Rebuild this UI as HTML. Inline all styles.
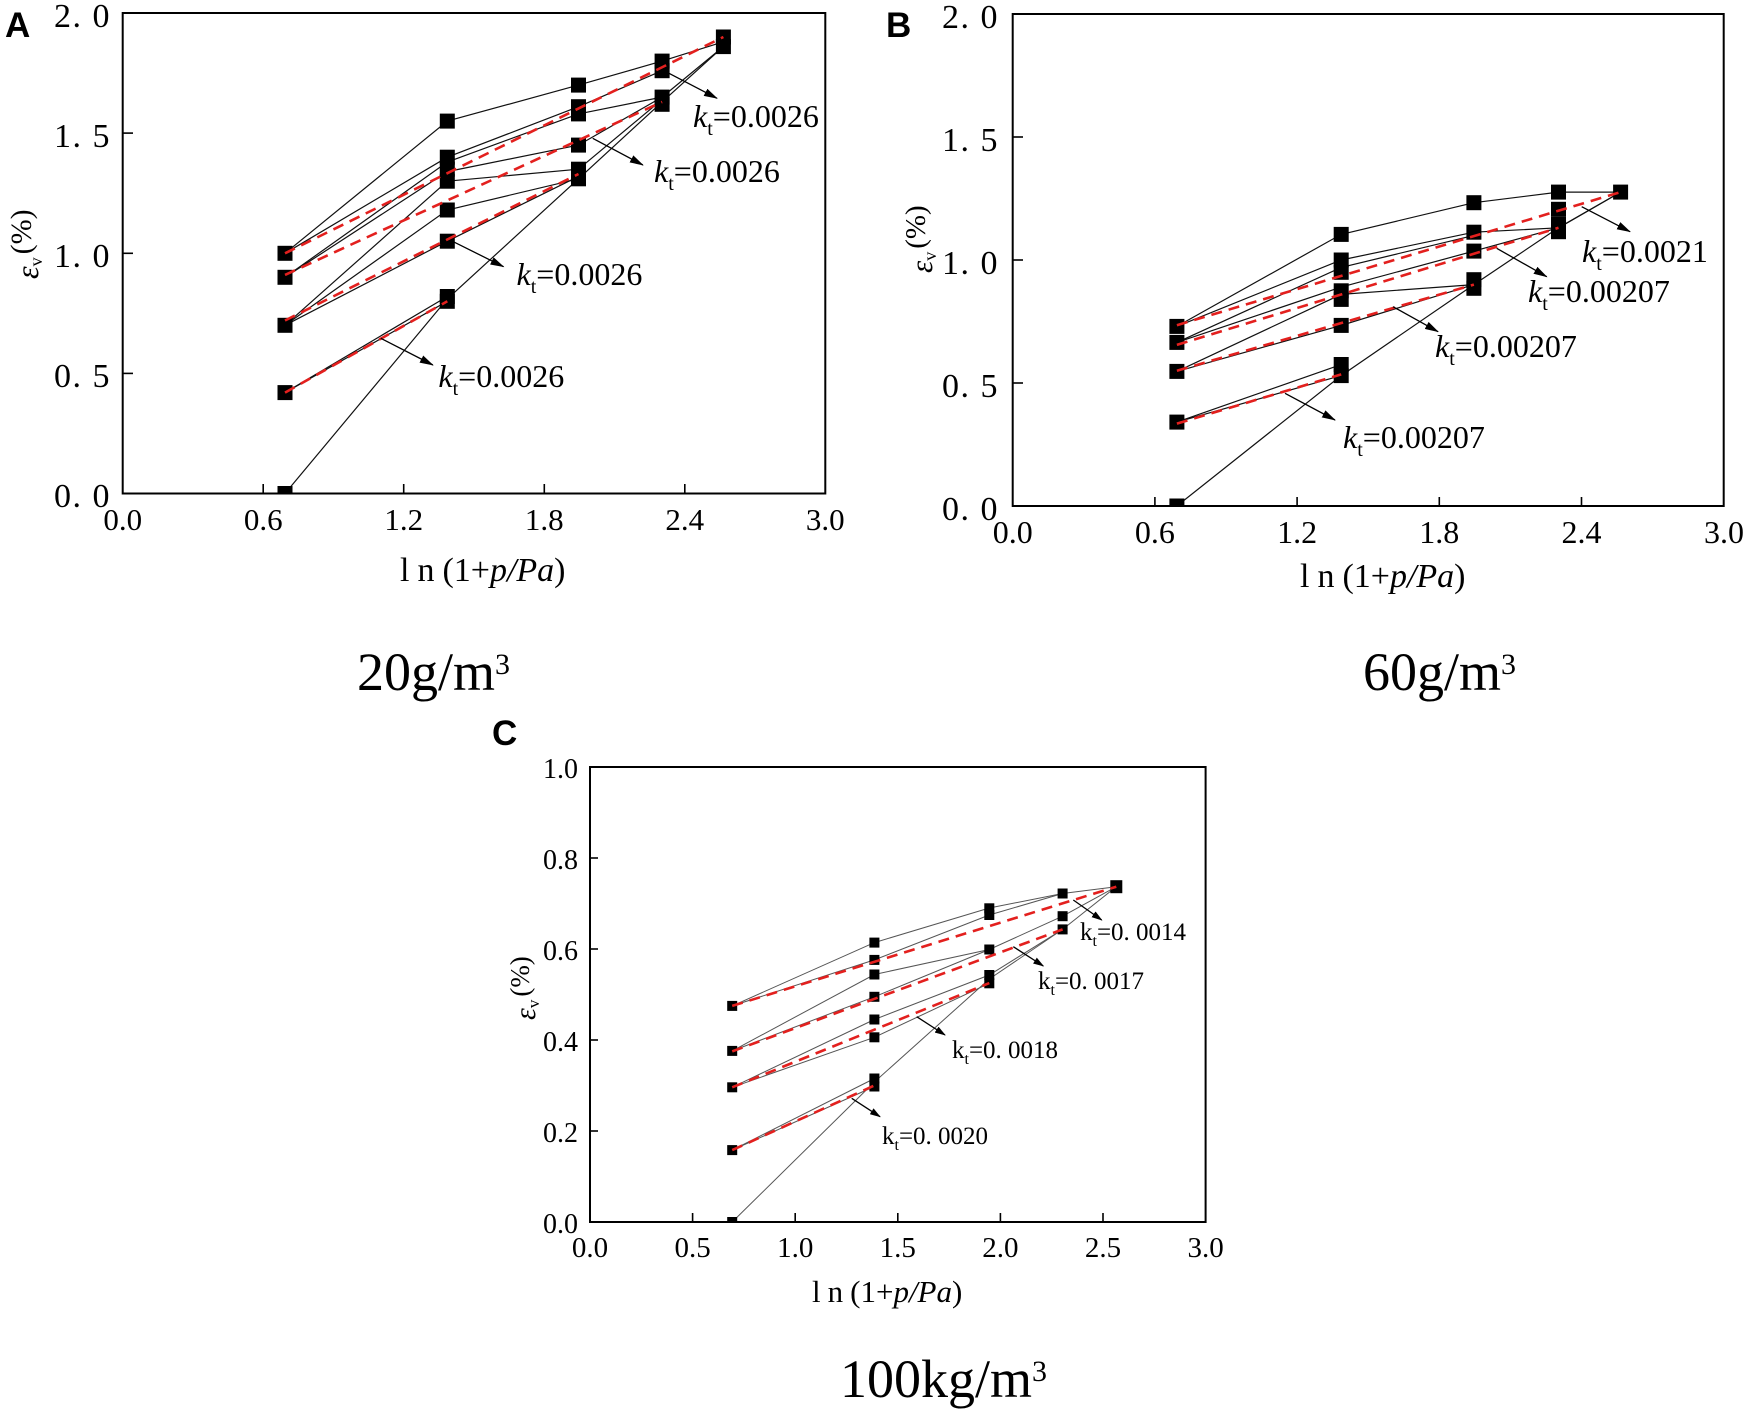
<!DOCTYPE html>
<html><head><meta charset="utf-8"><style>
html,body{margin:0;padding:0;background:#fff;}
svg{display:block;}
text{font-family:"Liberation Serif",serif;fill:#000;}
.bl{font-family:"Liberation Sans",sans-serif;font-weight:bold;}
.ln{fill:none;stroke:#111;stroke-width:1.2;}
.lc{fill:none;stroke:#555;stroke-width:1;}
.rd{fill:none;stroke:#e3201e;stroke-width:2.6;stroke-dasharray:11 7;}
.ar{fill:none;stroke:#000;stroke-width:1.3;}
.fr{fill:none;stroke:#000;stroke-width:2;}
.tk{stroke:#000;stroke-width:1.6;}
</style></head><body>
<svg width="1748" height="1411" viewBox="0 0 1748 1411" xmlns="http://www.w3.org/2000/svg">
<defs>
<marker id="ah" markerWidth="14" markerHeight="8" refX="13" refY="4" orient="auto" markerUnits="userSpaceOnUse"><path d="M0,0 L14,4 L0,8 Z" fill="#000"/></marker>
<marker id="ahs" markerWidth="11" markerHeight="7" refX="10" refY="3.5" orient="auto" markerUnits="userSpaceOnUse"><path d="M0,0 L11,3.5 L0,7 Z" fill="#000"/></marker>
<clipPath id="ca"><rect x="122.7" y="13" width="702.6" height="480.5"/></clipPath>
<clipPath id="cb"><rect x="1012.7" y="14" width="711" height="492"/></clipPath>
<clipPath id="cc"><rect x="590" y="767" width="615.6" height="455"/></clipPath>
</defs>

<!-- ================= PANEL A ================= -->
<text class="bl" x="5" y="37" font-size="35">A</text>
<rect class="fr" x="122.7" y="13" width="702.6" height="480.5"/>
<g class="tk">
<line x1="122.7" y1="373.4" x2="133" y2="373.4"/><line x1="122.7" y1="253.3" x2="133" y2="253.3"/><line x1="122.7" y1="133.1" x2="133" y2="133.1"/>
<line x1="263.2" y1="493.5" x2="263.2" y2="484"/><line x1="403.7" y1="493.5" x2="403.7" y2="484"/><line x1="544.3" y1="493.5" x2="544.3" y2="484"/><line x1="684.8" y1="493.5" x2="684.8" y2="484"/>
</g>
<g font-size="34" text-anchor="end" letter-spacing="1.5">
<text x="111" y="27">2. 0</text><text x="111" y="147">1. 5</text><text x="111" y="267">1. 0</text><text x="111" y="387">0. 5</text><text x="111" y="507">0. 0</text>
</g>
<g font-size="31" text-anchor="middle">
<text x="122.7" y="530">0.0</text><text x="263.2" y="530">0.6</text><text x="403.7" y="530">1.2</text><text x="544.3" y="530">1.8</text><text x="684.8" y="530">2.4</text><text x="825.3" y="530">3.0</text>
</g>
<text x="400" y="581" font-size="34"><tspan letter-spacing="8">ln</tspan>(1+<tspan font-style="italic">p/Pa</tspan>)</text>
<text transform="translate(38,279) rotate(-90)" font-size="32"><tspan font-style="italic">ε</tspan><tspan font-size="18" dy="4">v</tspan><tspan font-size="30" dy="-11" dx="3">(%)</tspan></text>

<g clip-path="url(#ca)">
<polyline class="ln" points="285,253.3 447.3,121.1 578.5,85.1 662.1,61.1 723.4,41.8"/>
<polyline class="ln" points="285,253.3 447.3,157.2 578.5,106.7 662.1,70.7"/>
<polyline class="ln" points="285,277.3 447.3,162 578.5,113.9 662.1,97.1"/>
<polyline class="ln" points="285,277.3 447.3,171.6 578.5,145.1 662.1,97.1 723.4,46.6"/>
<polyline class="ln" points="285,325.3 447.3,181.2 578.5,169.2 662.1,99.5"/>
<polyline class="ln" points="285,325.3 447.3,210 578.5,178.8"/>
<polyline class="ln" points="285,325.3 447.3,241.2 578.5,176.4"/>
<polyline class="ln" points="285,392.6 447.3,296.5"/>
<polyline class="ln" points="285,392.6 447.3,301.3"/>
<polyline class="ln" points="285,493.5 447.3,298.9 578.5,178.8 662.1,101.9 723.4,46.6"/>
<g fill="#000">
<rect x="277.5" y="245.8" width="15" height="15"/><rect x="277.5" y="269.8" width="15" height="15"/><rect x="277.5" y="317.8" width="15" height="15"/><rect x="277.5" y="385.1" width="15" height="15"/><rect x="277.5" y="486" width="15" height="15"/>
<rect x="439.8" y="113.6" width="15" height="15"/><rect x="439.8" y="149.7" width="15" height="15"/><rect x="439.8" y="161.7" width="15" height="15"/><rect x="439.8" y="173.7" width="15" height="15"/><rect x="439.8" y="202.5" width="15" height="15"/><rect x="439.8" y="233.7" width="15" height="15"/><rect x="439.8" y="289" width="15" height="15"/><rect x="439.8" y="293.8" width="15" height="15"/>
<rect x="571" y="77.6" width="15" height="15"/><rect x="571" y="99.2" width="15" height="15"/><rect x="571" y="106.4" width="15" height="15"/><rect x="571" y="137.6" width="15" height="15"/><rect x="571" y="161.7" width="15" height="15"/><rect x="571" y="171.3" width="15" height="15"/>
<rect x="654.6" y="53.6" width="15" height="15"/><rect x="654.6" y="63.2" width="15" height="15"/><rect x="654.6" y="89.6" width="15" height="15"/><rect x="654.6" y="96.8" width="15" height="15"/>
<rect x="715.9" y="29.5" width="15" height="15"/><rect x="715.9" y="39.1" width="15" height="15"/>
</g>
<line class="rd" x1="285" y1="253.3" x2="723.4" y2="37"/>
<line class="rd" x1="285" y1="274.9" x2="662.1" y2="101.9"/>
<line class="rd" x1="285" y1="320.5" x2="578.5" y2="174"/>
<line class="rd" x1="285" y1="392.6" x2="447.3" y2="301.3"/>
</g>
<line class="ar" x1="669" y1="73.3" x2="717" y2="98.3" marker-end="url(#ah)"/>
<line class="ar" x1="592.7" y1="138.3" x2="642.9" y2="165" marker-end="url(#ah)"/>
<line class="ar" x1="453.3" y1="241.7" x2="503.5" y2="266.7" marker-end="url(#ah)"/>
<line class="ar" x1="380.8" y1="338.3" x2="432.9" y2="365" marker-end="url(#ah)"/>
<g font-size="32">
<text x="693" y="127"><tspan font-style="italic">k</tspan><tspan font-size="20" dy="8">t</tspan><tspan dy="-8">=0.0026</tspan></text>
<text x="654" y="182"><tspan font-style="italic">k</tspan><tspan font-size="20" dy="8">t</tspan><tspan dy="-8">=0.0026</tspan></text>
<text x="516.5" y="285"><tspan font-style="italic">k</tspan><tspan font-size="20" dy="8">t</tspan><tspan dy="-8">=0.0026</tspan></text>
<text x="438.4" y="387"><tspan font-style="italic">k</tspan><tspan font-size="20" dy="8">t</tspan><tspan dy="-8">=0.0026</tspan></text>
</g>
<text x="357" y="690" font-size="54">20g/m<tspan font-size="30" dy="-16">3</tspan></text>

<!-- ================= PANEL B ================= -->
<text class="bl" x="886" y="37" font-size="35">B</text>
<rect class="fr" x="1012.7" y="14" width="711" height="492"/>
<g class="tk">
<line x1="1012.7" y1="383" x2="1023" y2="383"/><line x1="1012.7" y1="260" x2="1023" y2="260"/><line x1="1012.7" y1="137" x2="1023" y2="137"/>
<line x1="1154.9" y1="506" x2="1154.9" y2="497"/><line x1="1297.1" y1="506" x2="1297.1" y2="497"/><line x1="1439.3" y1="506" x2="1439.3" y2="497"/><line x1="1581.5" y1="506" x2="1581.5" y2="497"/>
</g>
<g font-size="34" text-anchor="end" letter-spacing="1.5">
<text x="999" y="28">2. 0</text><text x="999" y="151">1. 5</text><text x="999" y="274">1. 0</text><text x="999" y="397">0. 5</text><text x="999" y="520">0. 0</text>
</g>
<g font-size="32" text-anchor="middle">
<text x="1012.7" y="543">0.0</text><text x="1154.9" y="543">0.6</text><text x="1297.1" y="543">1.2</text><text x="1439.3" y="543">1.8</text><text x="1581.5" y="543">2.4</text><text x="1724" y="543">3.0</text>
</g>
<text x="1300" y="587" font-size="34"><tspan letter-spacing="8">ln</tspan>(1+<tspan font-style="italic">p/Pa</tspan>)</text>
<text transform="translate(932,273) rotate(-90)" font-size="31"><tspan font-style="italic">ε</tspan><tspan font-size="18" dy="4">v</tspan><tspan font-size="29" dy="-11" dx="3">(%)</tspan></text>

<g clip-path="url(#cb)">
<polyline class="ln" points="1176.9,326.4 1341.2,234.4 1473.9,202.7 1558.5,192.1 1620.6,192.1"/>
<polyline class="ln" points="1176.9,326.4 1341.2,260 1473.9,232.2 1558.5,227.8"/>
<polyline class="ln" points="1176.9,342.4 1341.2,267.4 1473.9,235.4"/>
<polyline class="ln" points="1176.9,342.4 1341.2,287.1 1473.9,251.1 1558.5,227.8 1620.6,192.1"/>
<polyline class="ln" points="1176.9,371.4 1341.2,294.4 1473.9,284.6"/>
<polyline class="ln" points="1176.9,371.4 1341.2,325.4 1473.9,284.6"/>
<polyline class="ln" points="1176.9,422.1 1341.2,364.6"/>
<polyline class="ln" points="1176.9,422.1 1341.2,375.6"/>
<polyline class="ln" points="1176.9,506 1341.2,375.6 1473.9,284.6 1558.5,227.8 1620.6,192.1"/>
<g fill="#000">
<rect x="1169.4" y="318.9" width="15" height="15"/><rect x="1169.4" y="334.9" width="15" height="15"/><rect x="1169.4" y="363.9" width="15" height="15"/><rect x="1169.4" y="414.6" width="15" height="15"/><rect x="1169.4" y="498.5" width="15" height="15"/>
<rect x="1333.7" y="226.9" width="15" height="15"/><rect x="1333.7" y="252.5" width="15" height="15"/><rect x="1333.7" y="264.8" width="15" height="15"/><rect x="1333.7" y="283.3" width="15" height="15"/><rect x="1333.7" y="291.9" width="15" height="15"/><rect x="1333.7" y="317.9" width="15" height="15"/><rect x="1333.7" y="357" width="15" height="15"/><rect x="1333.7" y="368.1" width="15" height="15"/>
<rect x="1466.4" y="195.2" width="15" height="15"/><rect x="1466.4" y="224.7" width="15" height="15"/><rect x="1466.4" y="243.6" width="15" height="15"/><rect x="1466.4" y="272.2" width="15" height="15"/><rect x="1466.4" y="280.8" width="15" height="15"/>
<rect x="1551" y="184.6" width="15" height="15"/><rect x="1551" y="201.8" width="15" height="15"/><rect x="1551" y="216.8" width="15" height="15"/><rect x="1551" y="224.2" width="15" height="15"/>
<rect x="1613.1" y="184.6" width="15" height="15"/>
</g>
<line class="rd" x1="1176.9" y1="325.2" x2="1620.6" y2="192.1"/>
<line class="rd" x1="1176.9" y1="344.9" x2="1558.5" y2="227.8"/>
<line class="rd" x1="1176.9" y1="370.7" x2="1473.9" y2="284.6"/>
<line class="rd" x1="1176.9" y1="423.6" x2="1341.2" y2="374.4"/>
</g>
<line class="ar" x1="1581.7" y1="206.7" x2="1630" y2="231.7" marker-end="url(#ah)"/>
<line class="ar" x1="1496.7" y1="248.3" x2="1546.7" y2="276.7" marker-end="url(#ah)"/>
<line class="ar" x1="1393" y1="306.7" x2="1438" y2="331.7" marker-end="url(#ah)"/>
<line class="ar" x1="1285" y1="393.3" x2="1335" y2="420" marker-end="url(#ah)"/>
<g font-size="32">
<text x="1582" y="262"><tspan font-style="italic">k</tspan><tspan font-size="20" dy="8">t</tspan><tspan dy="-8">=0.0021</tspan></text>
<text x="1528" y="302"><tspan font-style="italic">k</tspan><tspan font-size="20" dy="8">t</tspan><tspan dy="-8">=0.00207</tspan></text>
<text x="1435" y="357"><tspan font-style="italic">k</tspan><tspan font-size="20" dy="8">t</tspan><tspan dy="-8">=0.00207</tspan></text>
<text x="1343" y="448"><tspan font-style="italic">k</tspan><tspan font-size="20" dy="8">t</tspan><tspan dy="-8">=0.00207</tspan></text>
</g>
<text x="1363" y="690" font-size="54">60g/m<tspan font-size="30" dy="-16">3</tspan></text>

<!-- ================= PANEL C ================= -->
<text class="bl" x="492" y="745" font-size="35">C</text>
<rect class="fr" x="590" y="767" width="615.6" height="455"/>
<g class="tk">
<line x1="590" y1="858" x2="598" y2="858"/><line x1="590" y1="949" x2="598" y2="949"/><line x1="590" y1="1040" x2="598" y2="1040"/><line x1="590" y1="1131" x2="598" y2="1131"/>
<line x1="692.6" y1="1222" x2="692.6" y2="1213"/><line x1="795.2" y1="1222" x2="795.2" y2="1213"/><line x1="897.8" y1="1222" x2="897.8" y2="1213"/><line x1="1000.4" y1="1222" x2="1000.4" y2="1213"/><line x1="1103" y1="1222" x2="1103" y2="1213"/>
</g>
<g font-size="28" text-anchor="end">
<text x="578" y="778">1.0</text><text x="578" y="869">0.8</text><text x="578" y="960">0.6</text><text x="578" y="1051">0.4</text><text x="578" y="1142">0.2</text><text x="578" y="1233">0.0</text>
</g>
<g font-size="29" text-anchor="middle">
<text x="590" y="1257">0.0</text><text x="692.6" y="1257">0.5</text><text x="795.2" y="1257">1.0</text><text x="897.8" y="1257">1.5</text><text x="1000.4" y="1257">2.0</text><text x="1103" y="1257">2.5</text><text x="1205.6" y="1257">3.0</text>
</g>
<text x="812" y="1302" font-size="31"><tspan letter-spacing="7">ln</tspan>(1+<tspan font-style="italic">p/Pa</tspan>)</text>
<text transform="translate(535,1020) rotate(-90)" font-size="30"><tspan font-style="italic">ε</tspan><tspan font-size="17" dy="4">v</tspan><tspan font-size="27" dy="-10" dx="3">(%)</tspan></text>

<g clip-path="url(#cc)">
<polyline class="lc" points="732.2,1005.9 874.4,942.6 989.3,908 1062.6,893.5 1116.3,886.7"/>
<polyline class="lc" points="732.2,1005.9 874.4,959.9 989.3,915 1062.6,893.5"/>
<polyline class="lc" points="732.2,1050.9 874.4,974.5 989.3,949.5 1062.6,916.2 1116.3,886.7"/>
<polyline class="lc" points="732.2,1050.9 874.4,996.8 989.3,949.5"/>
<polyline class="lc" points="732.2,1087.3 874.4,1019.5 989.3,975 1062.6,929.4"/>
<polyline class="lc" points="732.2,1087.3 874.4,1037.3 989.3,983.3"/>
<polyline class="lc" points="732.2,1150.1 874.4,1078.5"/>
<polyline class="lc" points="732.2,1150.1 874.4,1086.5"/>
<polyline class="lc" points="732.2,1222 874.4,1082 989.3,979 1062.6,929.4 1116.3,886.7"/>
<g fill="#000">
<rect x="727.2" y="1000.9" width="10" height="10"/><rect x="727.2" y="1045.9" width="10" height="10"/><rect x="727.2" y="1082.3" width="10" height="10"/><rect x="727.2" y="1145.1" width="10" height="10"/><rect x="727.2" y="1217" width="10" height="10"/>
<rect x="869.4" y="937.6" width="10" height="10"/><rect x="869.4" y="954.9" width="10" height="10"/><rect x="869.4" y="969.5" width="10" height="10"/><rect x="869.4" y="991.8" width="10" height="10"/><rect x="869.4" y="1014.5" width="10" height="10"/><rect x="869.4" y="1032.3" width="10" height="10"/><rect x="869.4" y="1073.5" width="10" height="10"/><rect x="869.4" y="1081.5" width="10" height="10"/>
<rect x="984.3" y="903.3" width="10" height="10"/><rect x="984.3" y="910" width="10" height="10"/><rect x="984.3" y="944.5" width="10" height="10"/><rect x="984.3" y="970" width="10" height="10"/><rect x="984.3" y="978.3" width="10" height="10"/>
<rect x="1057.6" y="888.5" width="10" height="10"/><rect x="1057.6" y="911.2" width="10" height="10"/><rect x="1057.6" y="924.4" width="10" height="10"/>
<rect x="1110.3" y="880.2" width="12" height="13"/>
</g>
<line class="rd" x1="732.2" y1="1005.9" x2="1116.3" y2="886.7"/>
<line class="rd" x1="732.2" y1="1051.4" x2="1062.6" y2="929.4"/>
<line class="rd" x1="732.2" y1="1087.3" x2="989.3" y2="983.1"/>
<line class="rd" x1="732.2" y1="1150.1" x2="874.4" y2="1085.5"/>
</g>
<line class="ar" x1="1073.3" y1="900" x2="1101.7" y2="920" marker-end="url(#ahs)"/>
<line class="ar" x1="1013.3" y1="946.7" x2="1043.3" y2="966" marker-end="url(#ahs)"/>
<line class="ar" x1="916.7" y1="1016.7" x2="945" y2="1035" marker-end="url(#ahs)"/>
<line class="ar" x1="851.7" y1="1098.3" x2="880" y2="1116.7" marker-end="url(#ahs)"/>
<g font-size="25">
<text x="1080" y="940">k<tspan font-size="16" dy="6">t</tspan><tspan dy="-6">=0. 0014</tspan></text>
<text x="1038" y="989">k<tspan font-size="16" dy="6">t</tspan><tspan dy="-6">=0. 0017</tspan></text>
<text x="952" y="1058">k<tspan font-size="16" dy="6">t</tspan><tspan dy="-6">=0. 0018</tspan></text>
<text x="882" y="1144">k<tspan font-size="16" dy="6">t</tspan><tspan dy="-6">=0. 0020</tspan></text>
</g>
<text x="840" y="1397" font-size="54">100kg/m<tspan font-size="30" dy="-16">3</tspan></text>
</svg>
</body></html>
